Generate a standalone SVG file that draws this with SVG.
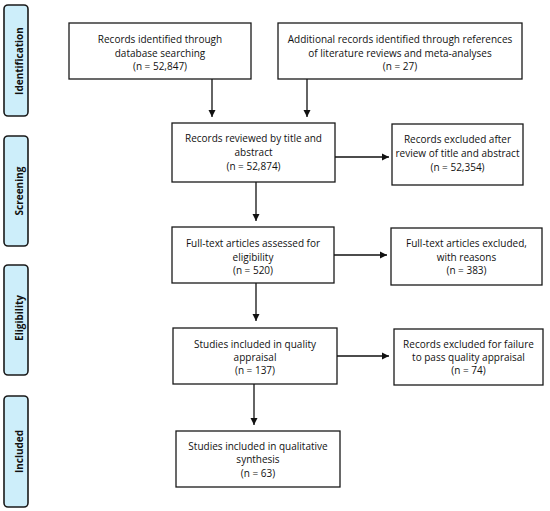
<svg xmlns="http://www.w3.org/2000/svg" width="550" height="511" viewBox="0 0 550 511">
<defs>
<style>
.box{fill:#fff;stroke:#1a1a1a;stroke-width:1.3}
.side{fill:#cdeefa;stroke:#1a1a1a;stroke-width:1.6}
.t{font-family:"Open Sans","Liberation Sans",sans-serif;font-size:10px;fill:#111;text-anchor:middle}
.s{font-family:"Open Sans","Liberation Sans",sans-serif;font-size:10px;font-weight:bold;fill:#111;text-anchor:middle}
.c{stroke:#111;stroke-width:1.3;fill:none;marker-end:url(#ah)}
</style>
<marker id="ah" markerWidth="8" markerHeight="8" refX="7" refY="4" orient="auto" markerUnits="userSpaceOnUse">
<path d="M0,0.5 L7,4 L0,7.5 Z" fill="#111"/>
</marker>
</defs>
<rect width="550" height="511" fill="#fff"/>
<g id="side-identification"><rect class="side" x="4" y="5" width="24" height="111" rx="4"/><text class="s" transform="translate(22.5,61) rotate(-90)">Identification</text></g>
<g id="side-screening"><rect class="side" x="4" y="136" width="24" height="110" rx="4"/><text class="s" transform="translate(22.5,191) rotate(-90)">Screening</text></g>
<g id="side-eligibility"><rect class="side" x="4" y="265" width="24" height="110" rx="4"/><text class="s" transform="translate(22.5,318) rotate(-90)">Eligibility</text></g>
<g id="side-included"><rect class="side" x="4" y="396" width="24" height="111" rx="4"/><text class="s" transform="translate(22.5,451.5) rotate(-90)">Included</text></g>

<g id="connectors">
<path class="c" d="M212,79 V117"/>
<path class="c" d="M307,79 V117"/>
<path class="c" d="M335,157 H389"/>
<path class="c" d="M256,182 V221"/>
<path class="c" d="M334,255 H387"/>
<path class="c" d="M256,283 V321"/>
<path class="c" d="M337,356 H389"/>
<path class="c" d="M254,384 V425"/>
</g>

<g id="n1"><rect class="box" x="69" y="23" width="182" height="56"/>
<text class="t" x="160" y="43">Records identified through</text>
<text class="t" x="160" y="56.5">database searching</text>
<text class="t" x="160" y="70">(n = 52,847)</text></g>
<g id="n2"><rect class="box" x="278" y="23" width="244" height="56"/>
<text class="t" x="400" y="43">Additional records identified through references</text>
<text class="t" x="400" y="56.5">of literature reviews and meta-analyses</text>
<text class="t" x="400" y="70">(n = 27)</text></g>
<g id="n3"><rect class="box" x="172" y="123" width="163" height="59"/>
<text class="t" x="253.5" y="142">Records reviewed by title and</text>
<text class="t" x="253.5" y="156">abstract</text>
<text class="t" x="253.5" y="170">(n = 52,874)</text></g>
<g id="n4"><rect class="box" x="392" y="124" width="131" height="61"/>
<text class="t" x="457.5" y="143">Records excluded after</text>
<text class="t" x="457.5" y="157">review of title and abstract</text>
<text class="t" x="457.5" y="171">(n = 52,354)</text></g>
<g id="n5"><rect class="box" x="172" y="227" width="162" height="56"/>
<text class="t" x="253" y="247">Full-text articles assessed for</text>
<text class="t" x="253" y="260.5">eligibility</text>
<text class="t" x="253" y="274">(n = 520)</text></g>
<g id="n6"><rect class="box" x="391" y="228" width="151" height="57"/>
<text class="t" x="466.5" y="247">Full-text articles excluded,</text>
<text class="t" x="466.5" y="260.5">with reasons</text>
<text class="t" x="466.5" y="274">(n = 383)</text></g>
<g id="n7"><rect class="box" x="173" y="328" width="164" height="56"/>
<text class="t" x="255" y="347.5">Studies included in quality</text>
<text class="t" x="255" y="360.5">appraisal</text>
<text class="t" x="255" y="373.5">(n = 137)</text></g>
<g id="n8"><rect class="box" x="394" y="329" width="149" height="56"/>
<text class="t" x="468.5" y="348">Records excluded for failure</text>
<text class="t" x="468.5" y="361">to pass quality appraisal</text>
<text class="t" x="468.5" y="374">(n = 74)</text></g>
<g id="n9"><rect class="box" x="176" y="431" width="164" height="56"/>
<text class="t" x="258" y="449.5">Studies included in qualitative</text>
<text class="t" x="258" y="463">synthesis</text>
<text class="t" x="258" y="476.5">(n = 63)</text></g>
</svg>
